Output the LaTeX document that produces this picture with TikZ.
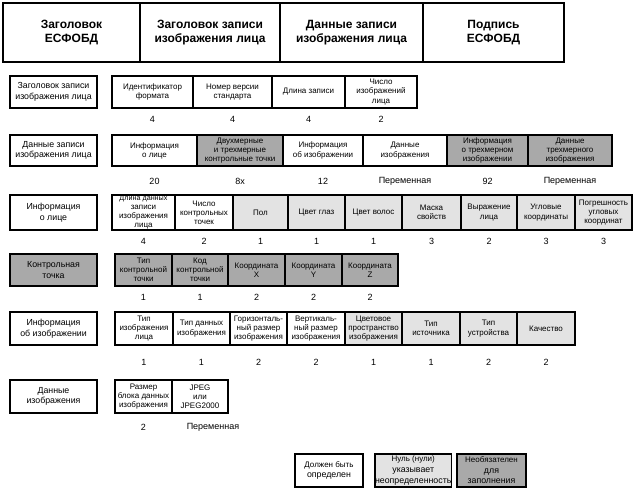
\documentclass[tikz,border=0pt]{standalone}
\usepackage{fontspec}
\setmainfont{Liberation Sans}
\definecolor{darkg}{HTML}{A9A9A9}
\definecolor{lightg}{HTML}{E3E3E3}
\tikzset{
 cellbase/.style={draw=black, line width=1.1pt, inner sep=0pt, outer sep=0pt, align=center, anchor=north west, font=\fontsize{8}{9.2}\selectfont},
 wcell/.style={cellbase, fill=white},
 lcell/.style={cellbase, fill=lightg},
 dcell/.style={cellbase, fill=darkg},
 lab/.style={cellbase, line width=1.7pt, font=\fontsize{8.8}{10.6}\selectfont},
 dlab/.style={lab, fill=darkg},
 llab/.style={lab, fill=lightg},
 head/.style={cellbase, line width=1.8pt, font=\bfseries\fontsize{12}{14.5}\selectfont},
 num/.style={font=\fontsize{9}{10}\selectfont, inner sep=0pt},
 frame/.style={draw=black, line width=1.8pt},
 hframe/.style={draw=black, line width=2.6pt},
}
\newcommand{\cellbox}[7]{\node[#1, minimum width={(#4-#3)*1pt}, minimum height={(#6-#5)*1pt}] (#2) at (#3,-#5) {#7};}
\begin{document}
\begin{tikzpicture}[x=1pt,y=1pt]
\useasboundingbox (0,0) rectangle (634,-492);
% header
\cellbox{head}{h1}{3}{140}{3}{62}{Заголовок\\ЕСФОБД}
\cellbox{head}{h2}{140}{280}{3}{62}{Заголовок записи\\изображения лица}
\cellbox{head}{h3}{280}{423}{3}{62}{Данные записи\\изображения лица}
\cellbox{head}{h4}{423}{564}{3}{62}{Подпись\\ЕСФОБД}
\draw[hframe] (h1.north west) rectangle (h4.south east);
% row 1
\cellbox{lab}{l1}{10}{97}{76}{108}{Заголовок записи\\изображения лица}
\cellbox{wcell}{r1a}{112}{193}{76}{108}{Идентификатор\\формата}
\cellbox{wcell}{r1b}{193}{272}{76}{108}{Номер версии\\стандарта}
\cellbox{wcell}{r1c}{272}{345}{76}{108}{Длина записи}
\cellbox{wcell}{r1d}{345}{417}{76}{108}{Число\\изображений\\лица}
\draw[frame] (r1a.north west) rectangle (r1d.south east);
\node[num] (n1a) at (r1a.center |- 0,-119) {4};
\node[num] (n1b) at (r1b.center |- 0,-119) {4};
\node[num] (n1c) at (r1c.center |- 0,-119) {4};
\node[num] (n1d) at (r1d.center |- 0,-119) {2};
% row 2
\cellbox{lab}{l2}{10}{97}{135}{166}{Данные записи\\изображения лица}
\cellbox{wcell}{r2a}{112}{197}{135}{166}{Информация\\о лице}
\cellbox{dcell}{r2b}{197}{283}{135}{166}{Двухмерные\\и трехмерные\\контрольные точки}
\cellbox{wcell}{r2c}{283}{363}{135}{166}{Информация\\об изображении}
\cellbox{wcell}{r2d}{363}{447}{135}{166}{Данные\\изображения}
\cellbox{dcell}{r2e}{447}{528}{135}{166}{Информация\\о трехмерном\\изображении}
\cellbox{dcell}{r2f}{528}{612}{135}{166}{Данные\\трехмерного\\изображения}
\draw[frame] (r2a.north west) rectangle (r2f.south east);
\node[num] (n2a) at (r2a.center |- 0,-181) {20};
\node[num] (n2b) at (r2b.center |- 0,-181) {8x};
\node[num] (n2c) at (r2c.center |- 0,-181) {12};
\node[num] (n2d) at (r2d.center |- 0,-181) {Переменная};
\node[num] (n2e) at (r2e.center |- 0,-181) {92};
\node[num] (n2f) at (r2f.center |- 0,-181) {Переменная};
% row 3
\cellbox{lab}{l3}{10}{97}{195}{230}{Информация\\о лице}
\cellbox{wcell}{r3a}{112}{175}{195}{230}{\fontsize{7.2}{7.6}\selectfont Длина данных\\записи\\изображения\\лица}
\cellbox{wcell}{r3b}{175}{233}{195}{230}{Число\\контрольных\\точек}
\cellbox{lcell}{r3c}{233}{288}{195}{230}{Пол}
\cellbox{lcell}{r3d}{288}{345}{195}{230}{Цвет глаз}
\cellbox{lcell}{r3e}{345}{402}{195}{230}{Цвет волос}
\cellbox{lcell}{r3f}{402}{461}{195}{230}{Маска\\свойств}
\cellbox{lcell}{r3g}{461}{517}{195}{230}{Выражение\\лица}
\cellbox{lcell}{r3h}{517}{575}{195}{230}{Угловые\\координаты}
\cellbox{lcell}{r3i}{575}{632}{195}{230}{Погрешность\\угловых\\координат}
\draw[frame] (r3a.north west) rectangle (r3i.south east);
\node[num] (n3a) at (r3a.center |- 0,-241) {4};
\node[num] (n3b) at (r3b.center |- 0,-241) {2};
\node[num] (n3c) at (r3c.center |- 0,-241) {1};
\node[num] (n3d) at (r3d.center |- 0,-241) {1};
\node[num] (n3e) at (r3e.center |- 0,-241) {1};
\node[num] (n3f) at (r3f.center |- 0,-241) {3};
\node[num] (n3g) at (r3g.center |- 0,-241) {2};
\node[num] (n3h) at (r3h.center |- 0,-241) {3};
\node[num] (n3i) at (r3i.center |- 0,-241) {3};
% row 4
\cellbox{dlab}{l4}{10}{97}{254}{286}{Контрольная\\точка}
\cellbox{dcell}{r4a}{115}{172}{254}{286}{Тип\\контрольной\\точки}
\cellbox{dcell}{r4b}{172}{228}{254}{286}{Код\\контрольной\\точки}
\cellbox{dcell}{r4c}{228}{285}{254}{286}{Координата\\X}
\cellbox{dcell}{r4d}{285}{342}{254}{286}{Координата\\Y}
\cellbox{dcell}{r4e}{342}{398}{254}{286}{Координата\\Z}
\draw[frame] (r4a.north west) rectangle (r4e.south east);
\node[num] (n4a) at (r4a.center |- 0,-297) {1};
\node[num] (n4b) at (r4b.center |- 0,-297) {1};
\node[num] (n4c) at (r4c.center |- 0,-297) {2};
\node[num] (n4d) at (r4d.center |- 0,-297) {2};
\node[num] (n4e) at (r4e.center |- 0,-297) {2};
% row 5
\cellbox{lab}{l5}{10}{97}{312}{345}{Информация\\об изображении}
\cellbox{wcell}{r5a}{115}{173}{312}{345}{Тип\\изображения\\лица}
\cellbox{wcell}{r5b}{173}{230}{312}{345}{Тип данных\\изображения}
\cellbox{wcell}{r5c}{230}{287}{312}{345}{Горизонталь-\\ный размер\\изображения}
\cellbox{wcell}{r5d}{287}{345}{312}{345}{Вертикаль-\\ный размер\\изображения}
\cellbox{lcell}{r5e}{345}{402}{312}{345}{Цветовое\\пространство\\изображения}
\cellbox{lcell}{r5f}{402}{460}{312}{345}{Тип\\источника}
\cellbox{lcell}{r5g}{460}{517}{312}{345}{Тип\\устройства}
\cellbox{lcell}{r5h}{517}{575}{312}{345}{Качество}
\draw[frame] (r5a.north west) rectangle (r5h.south east);
\node[num] (n5a) at (r5a.center |- 0,-362) {1};
\node[num] (n5b) at (r5b.center |- 0,-362) {1};
\node[num] (n5c) at (r5c.center |- 0,-362) {2};
\node[num] (n5d) at (r5d.center |- 0,-362) {2};
\node[num] (n5e) at (r5e.center |- 0,-362) {1};
\node[num] (n5f) at (r5f.center |- 0,-362) {1};
\node[num] (n5g) at (r5g.center |- 0,-362) {2};
\node[num] (n5h) at (r5h.center |- 0,-362) {2};
% row 6
\cellbox{lab}{l6}{10}{97}{380}{413}{Данные\\изображения}
\cellbox{wcell}{r6a}{115}{172}{380}{413}{Размер\\блока данных\\изображения}
\cellbox{wcell}{r6b}{172}{228}{380}{413}{JPEG\\или\\JPEG2000}
\draw[frame] (r6a.north west) rectangle (r6b.south east);
\node[num] (n6a) at (r6a.center |- 0,-427) {2};
\node[num] (n6b) at (213,-427) {Переменная};
% legend
\cellbox{lab}{g1}{295}{363}{454}{487}{\fontsize{8}{9.4}\selectfont Должен быть\\определен}
\cellbox{llab}{g2}{375}{447}{454}{487}{\fontsize{8}{9.4}\selectfont Нуль (нули)\\указывает\\неопределенность}
\cellbox{dlab}{g3}{457}{526}{454}{487}{\fontsize{8}{9.4}\selectfont Необязателен\\для\\заполнения}
\end{tikzpicture}
\end{document}
